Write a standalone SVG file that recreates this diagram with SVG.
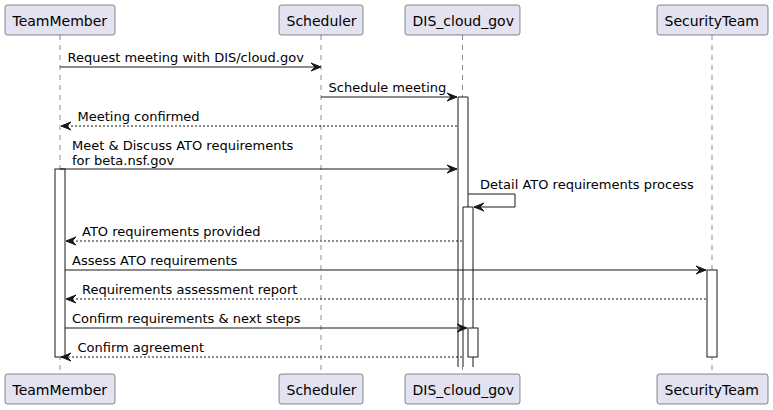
<svg xmlns="http://www.w3.org/2000/svg" width="773" height="410" viewBox="0 0 773 410">
<style>
.box{fill:#E2E2F0;stroke:#181818;stroke-width:0.5}
.pt{font-family:"DejaVu Sans",sans-serif;font-size:14px;fill:#000000}
.life{stroke:#181818;stroke-width:0.5;stroke-dasharray:5,5;fill:none}
.act{fill:#FFFFFF;stroke:#181818;stroke-width:1}
.actf{fill:#FFFFFF;stroke:none}
.acts{fill:none;stroke:#181818;stroke-width:1}
.msg{stroke:#181818;stroke-width:1;fill:none}
.dash{stroke-dasharray:2,2}
.head{fill:#181818;stroke:#181818;stroke-width:1}
.mt{font-family:"DejaVu Sans",sans-serif;font-size:13px;fill:#000000}
</style>
<rect width="773" height="410" fill="#FFFFFF"/>
<g id="TeamMember">
<line class="life" x1="60" y1="35" x2="60" y2="374"/>
<rect class="act" x="55" y="169" width="10" height="188"/>
<rect class="box" x="5" y="5" width="110" height="30" rx="2.5"/>
<text class="pt" x="12.5" y="25.5">TeamMember</text>
<rect class="box" x="5" y="374" width="110" height="30" rx="2.5"/>
<text class="pt" x="12.5" y="394.5">TeamMember</text>
</g>
<g id="Scheduler">
<line class="life" x1="321" y1="35" x2="321" y2="374"/>
<rect class="box" x="279" y="5" width="84" height="30" rx="2.5"/>
<text class="pt" x="286.5" y="25.5">Scheduler</text>
<rect class="box" x="279" y="374" width="84" height="30" rx="2.5"/>
<text class="pt" x="286.5" y="394.5">Scheduler</text>
</g>
<g id="DIS_cloud_gov">
<line class="life" x1="462.5" y1="35" x2="462.5" y2="374"/>
<rect class="actf" x="458" y="97" width="10" height="270"/>
<path class="acts" d="M458,367 V97 H468 V367"/>
<rect class="actf" x="463" y="207" width="10" height="160"/>
<path class="acts" d="M463,367 V207 H473 V367"/>
<rect class="act" x="468" y="328" width="10" height="29"/>
<rect class="box" x="405" y="5" width="115" height="30" rx="2.5"/>
<text class="pt" x="412.5" y="25.5">DIS_cloud_gov</text>
<rect class="box" x="405" y="374" width="115" height="30" rx="2.5"/>
<text class="pt" x="412.5" y="394.5">DIS_cloud_gov</text>
</g>
<g id="SecurityTeam">
<line class="life" x1="712" y1="35" x2="712" y2="374"/>
<rect class="act" x="707" y="270" width="10" height="87"/>
<rect class="box" x="657" y="5" width="111" height="30" rx="2.5"/>
<text class="pt" x="664.5" y="25.5">SecurityTeam</text>
<rect class="box" x="657" y="374" width="111" height="30" rx="2.5"/>
<text class="pt" x="664.5" y="394.5">SecurityTeam</text>
</g>
<g id="connectors">
<line class="msg" x1="60" y1="67" x2="320" y2="67"/>
<polygon class="head" points="311,63 321,67 311,71 315,67"/>
<text class="mt" x="67.5" y="62">Request meeting with DIS/cloud.gov</text>

<line class="msg" x1="321" y1="97" x2="457" y2="97"/>
<polygon class="head" points="447,93 457,97 447,101 451,97"/>
<text class="mt" x="328.5" y="92">Schedule meeting</text>

<line class="msg dash" x1="457" y1="126" x2="61" y2="126"/>
<polygon class="head" points="71,122 61,126 71,130 67,126"/>
<text class="mt" x="77.5" y="121">Meeting confirmed</text>

<line class="msg" x1="60" y1="169" x2="457" y2="169"/>
<polygon class="head" points="447,165 457,169 447,173 451,169"/>
<text class="mt" x="72" y="149.5">Meet &amp; Discuss ATO requirements</text>
<text class="mt" x="72" y="164.5">for beta.nsf.gov</text>

<polyline class="msg" points="468,194 515,194 515,207 474,207"/>
<polygon class="head" points="484,203 474,207 484,211 480,207"/>
<text class="mt" x="480" y="189">Detail ATO requirements process</text>

<line class="msg dash" x1="462" y1="241" x2="66" y2="241"/>
<polygon class="head" points="76,237 66,241 76,245 72,241"/>
<text class="mt" x="82" y="236">ATO requirements provided</text>

<line class="msg" x1="65" y1="270" x2="706" y2="270"/>
<polygon class="head" points="696,266 706,270 696,274 700,270"/>
<text class="mt" x="72" y="265">Assess ATO requirements</text>

<line class="msg dash" x1="706" y1="299" x2="66" y2="299"/>
<polygon class="head" points="76,295 66,299 76,303 72,299"/>
<text class="mt" x="82" y="294">Requirements assessment report</text>

<line class="msg" x1="65" y1="328" x2="467" y2="328"/>
<polygon class="head" points="457,324 467,328 457,332 461,328"/>
<text class="mt" x="72" y="323">Confirm requirements &amp; next steps</text>

<line class="msg dash" x1="462" y1="357" x2="61" y2="357"/>
<polygon class="head" points="71,353 61,357 71,361 67,357"/>
<text class="mt" x="77.5" y="352">Confirm agreement</text>
</g>
</svg>
